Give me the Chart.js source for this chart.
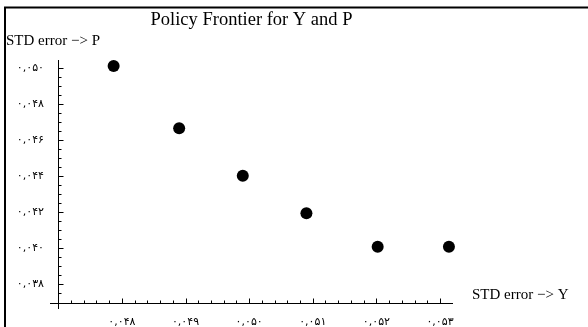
<!DOCTYPE html>
<html>
<head>
<meta charset="utf-8">
<script src="https://cdn.jsdelivr.net/npm/chart.js@4"></script>
<style>
  html, body { margin: 0; padding: 0; background: #fff; }
  #wrap { width: 588px; height: 327px; }
</style>
</head>
<body>
<div id="wrap"><canvas id="frontier" width="588" height="327"></canvas></div>
<script>
// STD error of Y (x) and of P (y)
const stdY = [0.04787, 0.0489, 0.0499, 0.0509, 0.05202, 0.05314];
const stdP = [0.05011, 0.04665, 0.04402, 0.04193, 0.04007, 0.04007];

const xTicks = [0.048, 0.049, 0.050, 0.051, 0.052, 0.053];
const xTickLabels = ["۰,۰۴۸", "۰,۰۴۹", "۰,۰۵۰", "۰,۰۵۱", "۰,۰۵۲", "۰,۰۵۳"];
const yTicks = [0.038, 0.040, 0.042, 0.044, 0.046, 0.048, 0.050];
const yTickLabels = ["۰,۰۳۸", "۰,۰۴۰", "۰,۰۴۲", "۰,۰۴۴", "۰,۰۴۶", "۰,۰۴۸", "۰,۰۵۰"];

const titleText = "Policy Frontier for Y and P";
const xAxisText = "STD error −> Y";
const yAxisText = "STD error −> P";

// where the two axes cross
const axisOrigin = { x: 0.047, y: 0.03693 };

const axesPlugin = {
  id: "mmaAxes",
  afterDraw(chart) {
    const ctx = chart.ctx;
    const xs = chart.scales.x, ys = chart.scales.y;
    const area = chart.chartArea;
    ctx.save();

    // frame (top and left)
    ctx.strokeStyle = "#000";
    ctx.lineWidth = 2;
    ctx.beginPath();
    ctx.moveTo(4, 7.5); ctx.lineTo(588, 7.5);
    ctx.moveTo(5, 7); ctx.lineTo(5, 327);
    ctx.stroke();

    const ax = Math.round(xs.getPixelForValue(axisOrigin.x)) + 0.5;
    const ay = Math.round(ys.getPixelForValue(axisOrigin.y)) + 0.5;

    ctx.lineWidth = 1;
    ctx.beginPath();
    ctx.moveTo(ax, area.top); ctx.lineTo(ax, area.bottom);
    ctx.moveTo(area.left, ay); ctx.lineTo(area.right, ay);

    // x ticks, major every 0.001, minor every 0.0002
    for (let i = -5; i <= 26; i++) {
      const v = 0.048 + i * 0.0002;
      const px = Math.round(xs.getPixelForValue(v)) + 0.5;
      if (px <= ax + 1 || px > area.right) continue;
      const len = (i % 5 === 0) ? 5 : 3;
      ctx.moveTo(px, ay); ctx.lineTo(px, ay - len);
    }
    // y ticks, major every 0.002, minor every 0.0005
    for (let i = -1; i <= 24; i++) {
      const v = 0.038 + i * 0.0005;
      const py = Math.round(ys.getPixelForValue(v)) + 0.5;
      if (py >= ay - 1 || py < area.top) continue;
      const len = (i % 4 === 0) ? 5 : 3;
      ctx.moveTo(ax, py); ctx.lineTo(ax + len, py);
    }
    ctx.stroke();

    // tick labels
    ctx.fillStyle = "#000";
    ctx.font = "11px 'DejaVu Sans'";
    ctx.textBaseline = "middle";
    ctx.textAlign = "center";
    xTicks.forEach((v, i) => {
      ctx.fillText(xTickLabels[i], xs.getPixelForValue(v), 322);
    });
    ctx.textAlign = "right";
    yTicks.forEach((v, i) => {
      ctx.fillText(yTickLabels[i], 44, ys.getPixelForValue(v));
    });

    // titles
    ctx.textBaseline = "alphabetic";
    ctx.textAlign = "center";
    ctx.font = "18.5px 'Liberation Serif'";
    ctx.fillText(titleText, (area.left + area.right) / 2, 25);
    ctx.textAlign = "left";
    ctx.font = "15px 'Liberation Serif'";
    ctx.fillText(yAxisText, 6, 45);
    ctx.fillText(xAxisText, 472, 299);
    ctx.restore();
  }
};

new Chart(document.getElementById("frontier"), {
  type: "scatter",
  data: {
    datasets: [{
      data: stdY.map((x, i) => ({ x: x, y: stdP[i] })),
      backgroundColor: "#000",
      borderWidth: 0,
      pointRadius: 6,
      pointHoverRadius: 6,
      clip: false
    }]
  },
  options: {
    responsive: false,
    animation: false,
    layout: { padding: { left: 50, top: 60, right: 135, bottom: 18 } },
    scales: {
      x: { type: "linear", display: false, min: 0.04687, max: 0.053204 },
      y: { type: "linear", display: false, min: 0.036611, max: 0.050444 }
    },
    plugins: {
      legend: { display: false },
      title: { display: false },
      tooltip: { enabled: false }
    }
  },
  plugins: [axesPlugin]
});
</script>
</body>
</html>
